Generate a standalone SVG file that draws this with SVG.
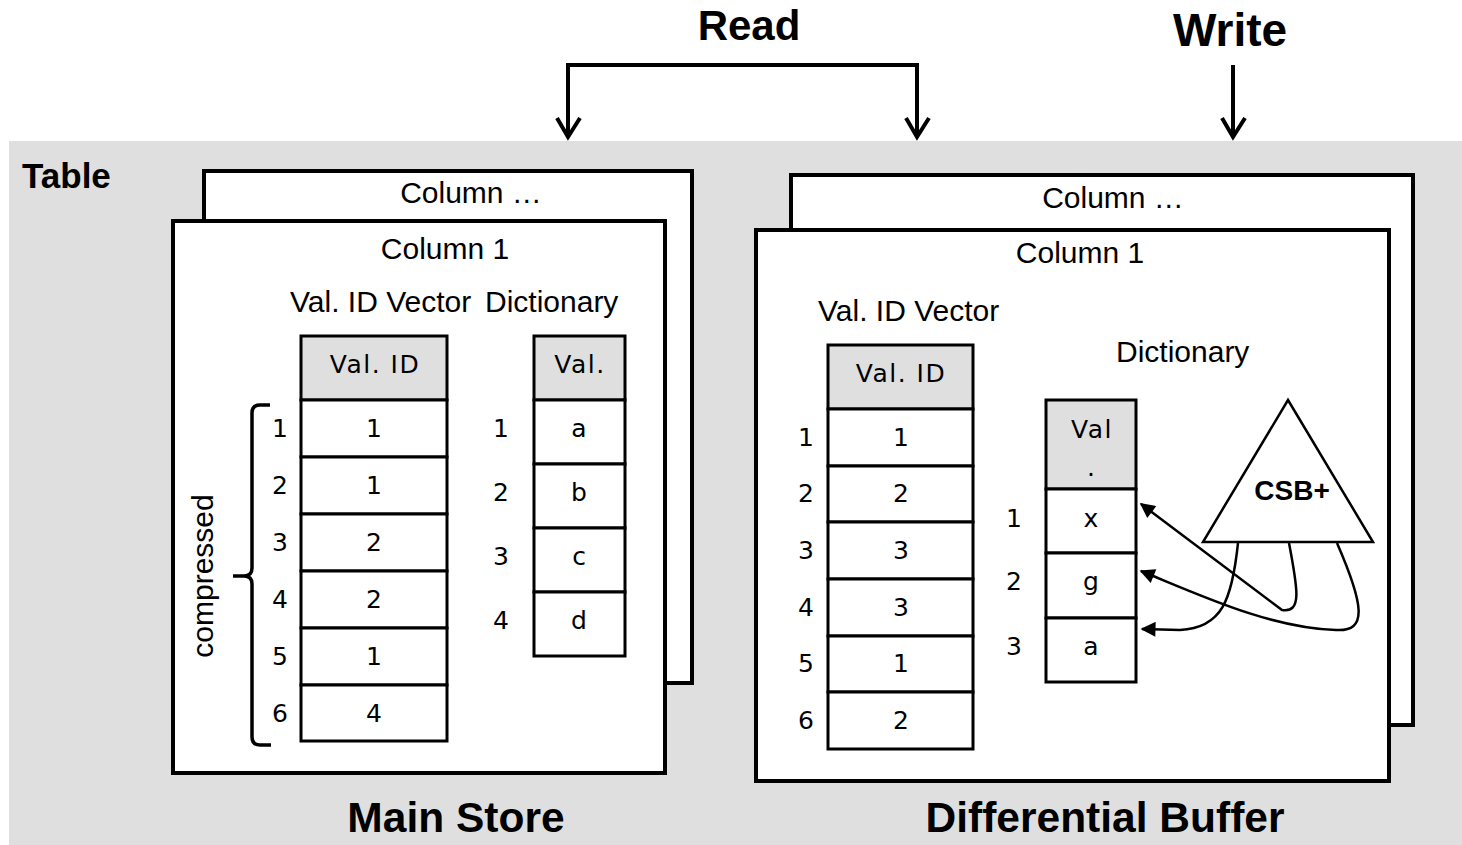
<svg xmlns="http://www.w3.org/2000/svg" width="1462" height="845" viewBox="0 0 1462 845">
  <defs>
    <style>
      .bg { fill: #dfdfdf; }
      .sheet { fill: #ffffff; stroke: #000; stroke-width: 4; }
      .cell { fill: #ffffff; stroke: #000; stroke-width: 3; }
      .head { fill: #dfdfdf; stroke: #000; stroke-width: 3; }
      .lbl { font-family: "Liberation Sans", Arial, sans-serif; font-size: 30px; fill: #000; }
      .mono { font-family: "DejaVu Sans", Verdana, sans-serif; font-size: 25px; fill: #000; text-anchor: middle; }
      .wide { letter-spacing: 1.5px; }
      .title { font-family: "Liberation Sans", Arial, sans-serif; font-weight: bold; fill: #000; }
      .mid { text-anchor: middle; }
      .flow { fill: none; stroke: #000; stroke-width: 4; stroke-linejoin: miter; }
      .chev { fill: none; stroke: #000; stroke-width: 4; stroke-linecap: butt; stroke-linejoin: miter; }
      .ptr { fill: none; stroke: #000; stroke-width: 2.5; }
    </style>
    <marker id="tip" viewBox="0 0 10 10" refX="9" refY="5" markerWidth="7" markerHeight="6" markerUnits="strokeWidth" orient="auto">
      <path d="M0,0 L10,5 L0,10 z" fill="#000"/>
    </marker>
  </defs>

  <!-- table area -->
  <rect class="bg" x="9" y="141" width="1453" height="704"/>
  <text class="title" x="22" y="188" font-size="35">Table</text>

  <!-- main store -->
  <g id="main-store">
    <rect class="sheet" x="204" y="171" width="488" height="512"/>
    <text class="lbl mid" x="471" y="203">Column …</text>
    <rect class="sheet" x="173" y="221" width="492" height="552"/>
    <text class="lbl mid" x="445" y="259">Column 1</text>
    <text class="lbl" x="290" y="312">Val. ID Vector</text>
    <text class="lbl" x="485" y="312">Dictionary</text>

    <g id="main-valid">
      <rect class="head" x="301" y="336" width="146" height="64"/>
      <text class="mono wide" x="375" y="373">Val. ID</text>
      <rect class="cell" x="301" y="400" width="146" height="57"/>
      <rect class="cell" x="301" y="457" width="146" height="57"/>
      <rect class="cell" x="301" y="514" width="146" height="57"/>
      <rect class="cell" x="301" y="571" width="146" height="57"/>
      <rect class="cell" x="301" y="628" width="146" height="57"/>
      <rect class="cell" x="301" y="685" width="146" height="56"/>
      <text class="mono" x="374" y="437">1</text>
      <text class="mono" x="374" y="494">1</text>
      <text class="mono" x="374" y="551">2</text>
      <text class="mono" x="374" y="608">2</text>
      <text class="mono" x="374" y="665">1</text>
      <text class="mono" x="374" y="722">4</text>
      <text class="mono" x="280" y="437">1</text>
      <text class="mono" x="280" y="494">2</text>
      <text class="mono" x="280" y="551">3</text>
      <text class="mono" x="280" y="608">4</text>
      <text class="mono" x="280" y="665">5</text>
      <text class="mono" x="280" y="722">6</text>
    </g>

    <g id="main-dict">
      <rect class="head" x="534" y="336" width="91" height="64"/>
      <text class="mono wide" x="580" y="373">Val.</text>
      <rect class="cell" x="534" y="400" width="91" height="64"/>
      <rect class="cell" x="534" y="464" width="91" height="64"/>
      <rect class="cell" x="534" y="528" width="91" height="64"/>
      <rect class="cell" x="534" y="592" width="91" height="64"/>
      <text class="mono" x="579" y="437">a</text>
      <text class="mono" x="579" y="501">b</text>
      <text class="mono" x="579" y="565">c</text>
      <text class="mono" x="579" y="629">d</text>
      <text class="mono" x="501" y="437">1</text>
      <text class="mono" x="501" y="501">2</text>
      <text class="mono" x="501" y="565">3</text>
      <text class="mono" x="501" y="629">4</text>
    </g>

    <g id="compressed">
      <path d="M270,405 L260,405 Q252,405 252,413 L252,568 Q252,576 244,576 L233,576 L244,576 Q252,576 252,584 L252,737 Q252,745 260,745 L271,745" fill="none" stroke="#000" stroke-width="3.5"/>
      <text class="lbl mid" font-size="29" transform="translate(213,576) rotate(-90)">compressed</text>
    </g>

    <text class="title mid" x="456" y="832" font-size="42.5">Main Store</text>
  </g>

  <!-- differential buffer -->
  <g id="delta-store">
    <rect class="sheet" x="791" y="175" width="622" height="550"/>
    <text class="lbl mid" x="1113" y="208">Column …</text>
    <rect class="sheet" x="756" y="230" width="633" height="551"/>
    <text class="lbl mid" x="1080" y="263">Column 1</text>
    <text class="lbl" x="818" y="321">Val. ID Vector</text>
    <text class="lbl" x="1116" y="362">Dictionary</text>

    <g id="delta-valid">
      <rect class="head" x="828" y="345" width="145" height="64"/>
      <text class="mono wide" x="901" y="382">Val. ID</text>
      <rect class="cell" x="828" y="409" width="145" height="57"/>
      <rect class="cell" x="828" y="466" width="145" height="56"/>
      <rect class="cell" x="828" y="522" width="145" height="57"/>
      <rect class="cell" x="828" y="579" width="145" height="57"/>
      <rect class="cell" x="828" y="636" width="145" height="56"/>
      <rect class="cell" x="828" y="692" width="145" height="57"/>
      <text class="mono" x="901" y="446">1</text>
      <text class="mono" x="901" y="502">2</text>
      <text class="mono" x="901" y="559">3</text>
      <text class="mono" x="901" y="616">3</text>
      <text class="mono" x="901" y="672">1</text>
      <text class="mono" x="901" y="729">2</text>
      <text class="mono" x="806" y="446">1</text>
      <text class="mono" x="806" y="502">2</text>
      <text class="mono" x="806" y="559">3</text>
      <text class="mono" x="806" y="616">4</text>
      <text class="mono" x="806" y="672">5</text>
      <text class="mono" x="806" y="729">6</text>
    </g>

    <g id="delta-dict">
      <rect class="head" x="1046" y="400" width="90" height="89"/>
      <text class="mono wide" x="1092" y="438">Val</text>
      <text class="mono" x="1091" y="476">.</text>
      <rect class="cell" x="1046" y="489" width="90" height="64"/>
      <rect class="cell" x="1046" y="553" width="90" height="65"/>
      <rect class="cell" x="1046" y="618" width="90" height="64"/>
      <text class="mono" x="1091" y="527">x</text>
      <text class="mono" x="1091" y="590">g</text>
      <text class="mono" x="1091" y="655">a</text>
      <text class="mono" x="1014" y="527">1</text>
      <text class="mono" x="1014" y="590">2</text>
      <text class="mono" x="1014" y="655">3</text>
    </g>

    <g id="csb-tree">
      <polygon points="1288,400 1373,542 1203,542" fill="#fff" stroke="#000" stroke-width="2.5"/>
      <text class="title mid" x="1292" y="500" font-size="28">CSB+</text>
    </g>

    <text class="title mid" x="1105" y="832" font-size="42.5">Differential Buffer</text>
  </g>

  <!-- connectors -->
  <g id="connectors">
    <text class="title mid" x="749" y="40" font-size="42">Read</text>
    <text class="title mid" x="1230" y="46" font-size="46">Write</text>

    <path class="flow" d="M568,136 L568,65 L917,65 L917,136"/>
    <path class="chev" d="M557,118 L568,137 L580,118"/>
    <path class="chev" d="M906,118 L917,137 L929,118"/>

    <path class="flow" d="M1233,65 L1233,136" stroke-width="3.5"/>
    <path class="chev" d="M1222,118 L1233,137 L1245,118" stroke-width="3.5"/>

    <path class="ptr" d="M1238,543 C1232,600 1222,628 1180,630 L1142,629" marker-end="url(#tip)"/>
    <path class="ptr" d="M1289,543 C1298,590 1302,613 1282,610 L1141,504" marker-end="url(#tip)"/>
    <path class="ptr" d="M1337,543 C1364,605 1368,632 1336,630 C1270,628 1200,595 1141,571" marker-end="url(#tip)"/>
  </g>
</svg>
